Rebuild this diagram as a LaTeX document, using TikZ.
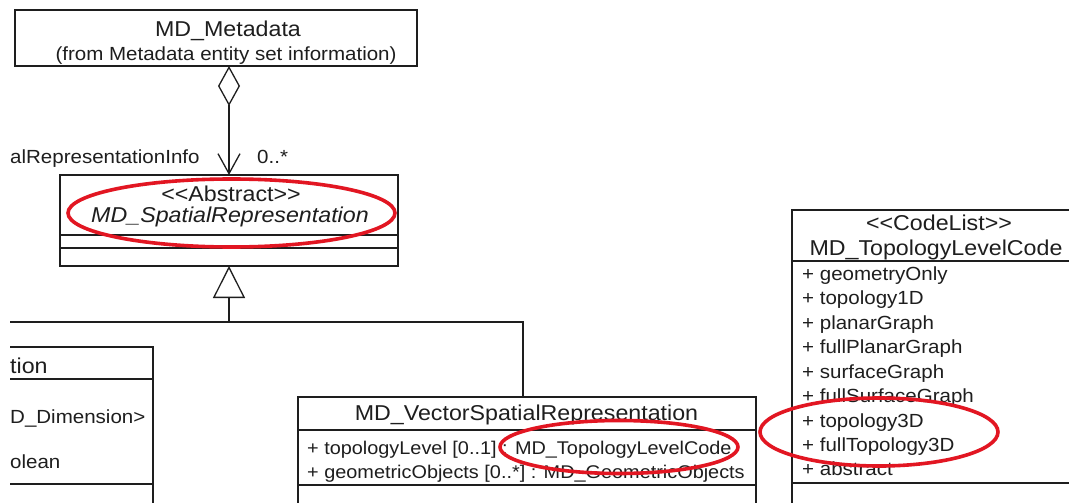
\documentclass[tikz,border=0pt]{standalone}
\usepackage{fontspec}
\setmainfont{Liberation Sans}[FakeStretch=1.08]
\usetikzlibrary{arrows.meta,shapes.geometric}
\definecolor{ink}{RGB}{30,30,30}
\definecolor{redmark}{RGB}{226,22,34}
\newcommand\ltlt{<\kern0pt<}
\newcommand\gtgt{>\kern0pt>}
\begin{document}
\begin{tikzpicture}[x=1pt,y=-1pt,
  box/.style={draw=ink, line width=1.3pt, inner sep=0pt, outer sep=0pt, rectangle},
  conn/.style={draw=ink, line width=1.3pt},
  ttl/.style={inner sep=0pt, font=\fontsize{21.5}{24}\selectfont, text height=15.4pt, text depth=0pt, text=ink},
  sub/.style={inner sep=0pt, font=\fontsize{19}{22}\selectfont, text height=13.6pt, text depth=0pt, text=ink},
  attr/.style={sub, anchor=west},
  vattr/.style={attr, font=\fontsize{18.4}{22}\selectfont, text height=13.2pt},
  hl/.style={draw=redmark, line width=3.6pt, ellipse, inner sep=0pt}]
\useasboundingbox (0,0) rectangle (1069,503);
\fill[white] (0,0) rectangle (1069,503);
\clip (10,0) rectangle (1069,503);

% MD_Metadata
\node[box, minimum width=402pt, minimum height=56pt] (meta) at (216,38) {};
\node[ttl] (metaT) at (228,29) {MD\_Metadata};
\node[sub] (metaS) at (226,54) {(from Metadata entity set information)};

% MD_SpatialRepresentation
\node[box, minimum width=338pt, minimum height=91pt] (spat) at (229,220.5) {};
\draw[conn] ([yshift=-60pt]spat.north west) -- ([yshift=-60pt]spat.north east);
\draw[conn] ([yshift=-73pt]spat.north west) -- ([yshift=-73pt]spat.north east);
\node[ttl] (spatS) at (231,193.5) {\ltlt Abstract\gtgt};
\node[ttl, font=\fontsize{21.5}{24}\selectfont\itshape] (spatT) at (230,214.5) {MD\_SpatialRepresentation};

% aggregation
\draw[conn, {Diamond[open,length=40pt,width=22pt]}-{Straight Barb[length=20pt,width=22pt]}]
  (spat.north |- meta.south) -- (spat.north);
\node[attr] (role) at (10,156.5) {alRepresentationInfo};
\node[attr] (mult) at (257,156.5) {0..*};

% grid box (partially visible)
\node[box, minimum width=213pt, minimum height=213pt] (grid) at (46.5,453.5) {};
\draw[conn] ([yshift=-32pt]grid.north west) -- ([yshift=-32pt]grid.north east);
\draw[conn] ([yshift=-137pt]grid.north west) -- ([yshift=-137pt]grid.north east);
\node[ttl, anchor=west] (gridT) at (10,365.5) {tion};
\node[attr] (gridA1) at (10,416.5) {D\_Dimension>};
\node[attr] (gridA2) at (10,462) {olean};

% MD_VectorSpatialRepresentation
\node[box, minimum width=458pt, minimum height=143pt] (vec) at (527,468.5) {};
\draw[conn] ([yshift=-33pt]vec.north west) -- ([yshift=-33pt]vec.north east);
\draw[conn] ([yshift=-88pt]vec.north west) -- ([yshift=-88pt]vec.north east);
\node[ttl] (vecT) at (526.5,412.5) {MD\_VectorSpatialRepresentation};
\node[vattr] (vecA1) at (307,448) {+ topologyLevel [0..1] : MD\_TopologyLevelCode};
\node[vattr] (vecA2) at (307,471.5) {+ geometricObjects [0..*] : MD\_GeometricObjects};

% generalization
\coordinate (jn) at (229,322);
\coordinate (lend) at (0,322);
\coordinate (vt) at (523,397);
\draw[conn, -{Triangle[open,length=32pt,width=32pt]}] (jn) -- (spat.south);
\draw[conn] (lend) -| (vt);

% MD_TopologyLevelCode
\node[box, minimum width=290pt, minimum height=330pt] (code) at (937,375) {};
\draw[conn] ([yshift=-51pt]code.north west) -- ([yshift=-51pt]code.north east);
\draw[conn] ([yshift=-273pt]code.north west) -- ([yshift=-273pt]code.north east);
\node[ttl] (codeS) at (939,223) {\ltlt CodeList\gtgt};
\node[ttl] (codeT) at (936,247.5) {MD\_TopologyLevelCode};
\node[attr] (c1) at (802,273.3) {+ geometryOnly};
\node[attr] (c2) at (802,297.8) {+ topology1D};
\node[attr] (c3) at (802,322.3) {+ planarGraph};
\node[attr] (c4) at (802,346.8) {+ fullPlanarGraph};
\node[attr] (c5) at (802,371.3) {+ surfaceGraph};
\node[attr] (c6) at (802,395.8) {+ fullSurfaceGraph};
\node[attr] (c7) at (802,420.3) {+ topology3D};
\node[attr] (c8) at (802,444.8) {+ fullTopology3D};
\node[attr] (c9) at (802,468.5) {+ abstract};

% red highlights
\node[hl, minimum width=327pt, minimum height=68pt] (e1) at (231.5,213) {};
\node[hl, minimum width=238pt, minimum height=53pt] (e2) at (619,447) {};
\node[hl, minimum width=238pt, minimum height=68pt] (e3) at (879,432) {};
\end{tikzpicture}
\end{document}
